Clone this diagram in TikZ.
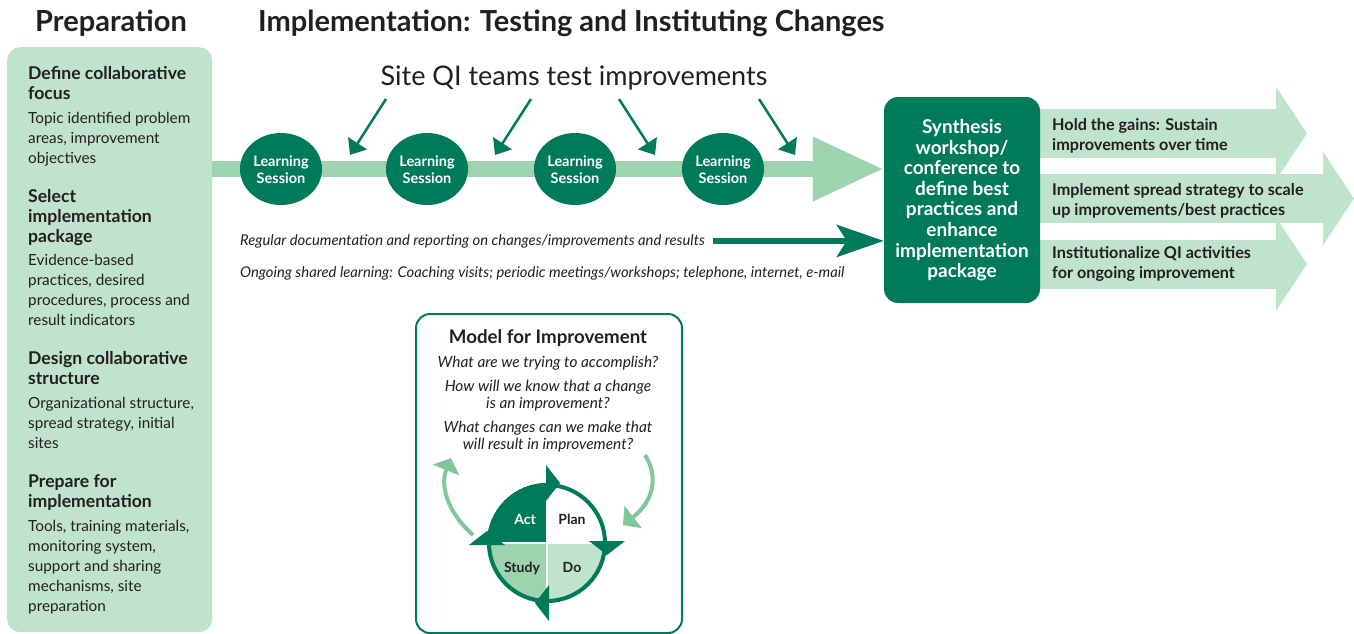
\documentclass[tikz,border=0pt]{standalone}
\usepackage{fontspec}
\setmainfont{Lato}
\usetikzlibrary{arrows.meta,shapes.geometric,backgrounds}
\definecolor{dk}{RGB}{0,123,90}
\definecolor{pale}{RGB}{192,227,203}
\definecolor{mid}{RGB}{157,211,175}
\definecolor{arcg}{RGB}{128,200,155}
\definecolor{txt}{RGB}{35,31,32}
\newcommand\fsz[2]{\fontsize{#1}{#2}\selectfont}
\newcommand\Lft[1]{\begin{tabular}[t]{@{}l@{}}#1\end{tabular}}
\newcommand\Ctr[1]{\begin{tabular}[t]{@{}c@{}}#1\end{tabular}}
\newcommand\LS{\Ctr{\rule{0pt}{17.5pt}Learning\\Session}}
\begin{document}
\begin{tikzpicture}[x=1pt,y=-1pt,
  every node/.style={inner sep=0pt, text=txt},
  head/.style={font=\fsz{17.6}{20}\bfseries, anchor=base west},
  body/.style={font=\fsz{15.3}{20}, anchor=base west},
  sess/.style={ellipse, fill=dk, minimum width=82pt, minimum height=72pt, text=white, font=\fsz{14.5}{17}\bfseries},
  pin/.style={draw=dk, line width=2.5pt, -{Triangle[length=14pt,width=22pt]}},
  bigarrow/.style={draw=pale, line width=49pt, shorten <=-10pt, -{Triangle[length=31pt,width=92pt]}},
  arrtext/.style={font=\fsz{16.2}{20.5}\bfseries, anchor=base west},
  ques/.style={font=\fsz{15.4}{17}\itshape, anchor=base},
  quad/.style={font=\fsz{14}{15}\bfseries, anchor=base},
  curv/.style={draw=arcg, line width=4pt, -{Triangle[length=13pt,width=28pt]}},
  ditext/.style={font=\fsz{14.8}{16}\itshape, anchor=base west}
]
\useasboundingbox (0,0) rectangle (1354,633);

% titles
\node[font=\fsz{29}{32}\bfseries, anchor=base] (tprep) at (111,31) {Preparation};
\node[font=\fsz{29}{32}\bfseries, anchor=base west] (timpl) at (258,31) {Implementation: Testing and Instituting Changes};

% preparation box
\node[fill=pale, rounded corners=13pt, minimum width=205pt, minimum height=585pt, anchor=north west] (prep) at (7,47) {};
\node[head] (h1) at (28,79) {\Lft{Define collaborative\\focus}};
\node[body] (b1) at (28,123) {\Lft{Topic identified problem\\areas, improvement\\objectives}};
\node[head] (h2) at (28,202) {\Lft{Select\\implementation\\package}};
\node[body] (b2) at (28,265) {\Lft{Evidence-based\\practices, desired\\procedures, process and\\result indicators}};
\node[head] (h3) at (28,364) {\Lft{Design collaborative\\structure}};
\node[body] (b3) at (28,408) {\Lft{Organizational structure,\\spread strategy, initial\\sites}};
\node[head] (h4) at (28,487) {\Lft{Prepare for\\implementation}};
\node[body] (b4) at (28,531) {\Lft{Tools, training materials,\\monitoring system,\\support and sharing\\mechanisms, site\\preparation}};

% synthesis box
\node[fill=dk, rounded corners=14pt, minimum width=156pt, minimum height=206pt] (synth) at (962,200) {};
\node[font=\fsz{19}{20.6}\bfseries, text=white, anchor=base] (synthtxt) at (962,133.5) {\Ctr{Synthesis\\workshop/\\conference to\\define best\\practices and\\enhance\\implementation\\package}};

% big right arrows
\coordinate (t1) at (1307,133.5);
\coordinate (t2) at (1354,198.5);
\coordinate (t3) at (1307,264);
\begin{scope}[on background layer]
\draw[bigarrow] (synth.east |- t1) -- (t1);
\draw[bigarrow] (synth.east |- t3) -- (t3);
\draw[bigarrow] (synth.east |- t2) -- (t2);
\end{scope}
\node[arrtext] (a1t) at (1052,130) {\Lft{Hold the gains: Sustain\\improvements over time}};
\node[arrtext] (a2t) at (1052,195) {\Lft{Implement spread strategy to scale\\up improvements/best practices}};
\node[arrtext] (a3t) at (1052,258) {\Lft{Institutionalize QI activities\\for ongoing improvement}};

% band
\coordinate (bandY) at (0,169);
\draw[mid, line width=16pt, -{Triangle[length=71pt,width=60pt]}] (prep.east |- bandY) -- (synth.west |- bandY);

% learning sessions
\node[sess] (ls1) at (281,169) {\LS};
\node[sess] (ls2) at (427,169) {\LS};
\node[sess] (ls3) at (575,169) {\LS};
\node[sess] (ls4) at (723,169) {\LS};

% site QI
\node[font=\fsz{27}{30}, anchor=base] (siteqi) at (574,85) {Site QI teams test improvements};
\coordinate (p1s) at (386,99);  \coordinate (p1e) at (350,155);
\coordinate (p2s) at (531,99);  \coordinate (p2e) at (495,155);
\coordinate (p3s) at (619,99);  \coordinate (p3e) at (655,155);
\coordinate (p4s) at (759,99);  \coordinate (p4e) at (795,155);
\draw[pin] (p1s) -- (p1e);
\draw[pin] (p2s) -- (p2e);
\draw[pin] (p3s) -- (p3e);
\draw[pin] (p4s) -- (p4e);

% documentation lines
\node[ditext] (regdoc) at (240,245) {Regular documentation and reporting on changes/improvements and results};
\node[ditext] (ongoing) at (240,277) {Ongoing shared learning: Coaching visits; periodic meetings/workshops; telephone, internet, e-mail};
\draw[dk, line width=6pt, shorten <=8pt, -{Stealth[length=47pt,width=32pt,inset=10pt]}] (regdoc.east) -- (synth.west |- regdoc.east);

% model for improvement
\node[draw=dk, line width=2pt, fill=white, rounded corners=14pt, minimum width=266pt, minimum height=319pt, anchor=north west] (model) at (415,313) {};
\node[font=\fsz{18.7}{20}\bfseries, anchor=base] (mtitle) at (548,343) {Model for Improvement};
\node[ques] (q1) at (548,367) {What are we trying to accomplish?};
\node[ques] (q2) at (548,391) {\Ctr{How will we know that a change\\is an improvement?}};
\node[ques] (q3) at (548,432) {\Ctr{What changes can we make that\\will result in improvement?}};

% PDSA cycle
\begin{scope}
\clip (547,543) circle[radius=60pt];
\fill[dk] (487,483) rectangle (547,543);
\fill[white] (547,483) rectangle (607,543);
\fill[mid] (487,543) rectangle (547,603);
\fill[pale] (547,543) rectangle (607,603);
\draw[white, line width=2.5pt] (487,543) -- (607,543);
\draw[white, line width=2.5pt] (547,483) -- (547,603);
\end{scope}
\draw[dk, line width=4pt] (547,543) circle[radius=58pt];
\fill[dk] (546,465) -- (546,501) -- (560,483) -- cycle;
\fill[dk] (589,541) -- (625,541) -- (607,555) -- cycle;
\fill[dk] (549,585) -- (549,621) -- (535,603) -- cycle;
\fill[dk] (469,545) -- (505,545) -- (487,531) -- cycle;
\node[quad, text=white] (act) at (525,524) {Act};
\node[quad] (plan) at (572,524) {Plan};
\node[quad] (study) at (522,572) {Study};
\node[quad] (do) at (572,572) {Do};
\coordinate (c1s) at (473,535); \coordinate (c1e) at (451,458);
\coordinate (c2s) at (645,455); \coordinate (c2e) at (623,525);
\draw[curv] (c1s) .. controls (447,512) and (440,485) .. (c1e);
\draw[curv] (c2s) .. controls (658,475) and (655,500) .. (c2e);
\end{tikzpicture}
\end{document}
